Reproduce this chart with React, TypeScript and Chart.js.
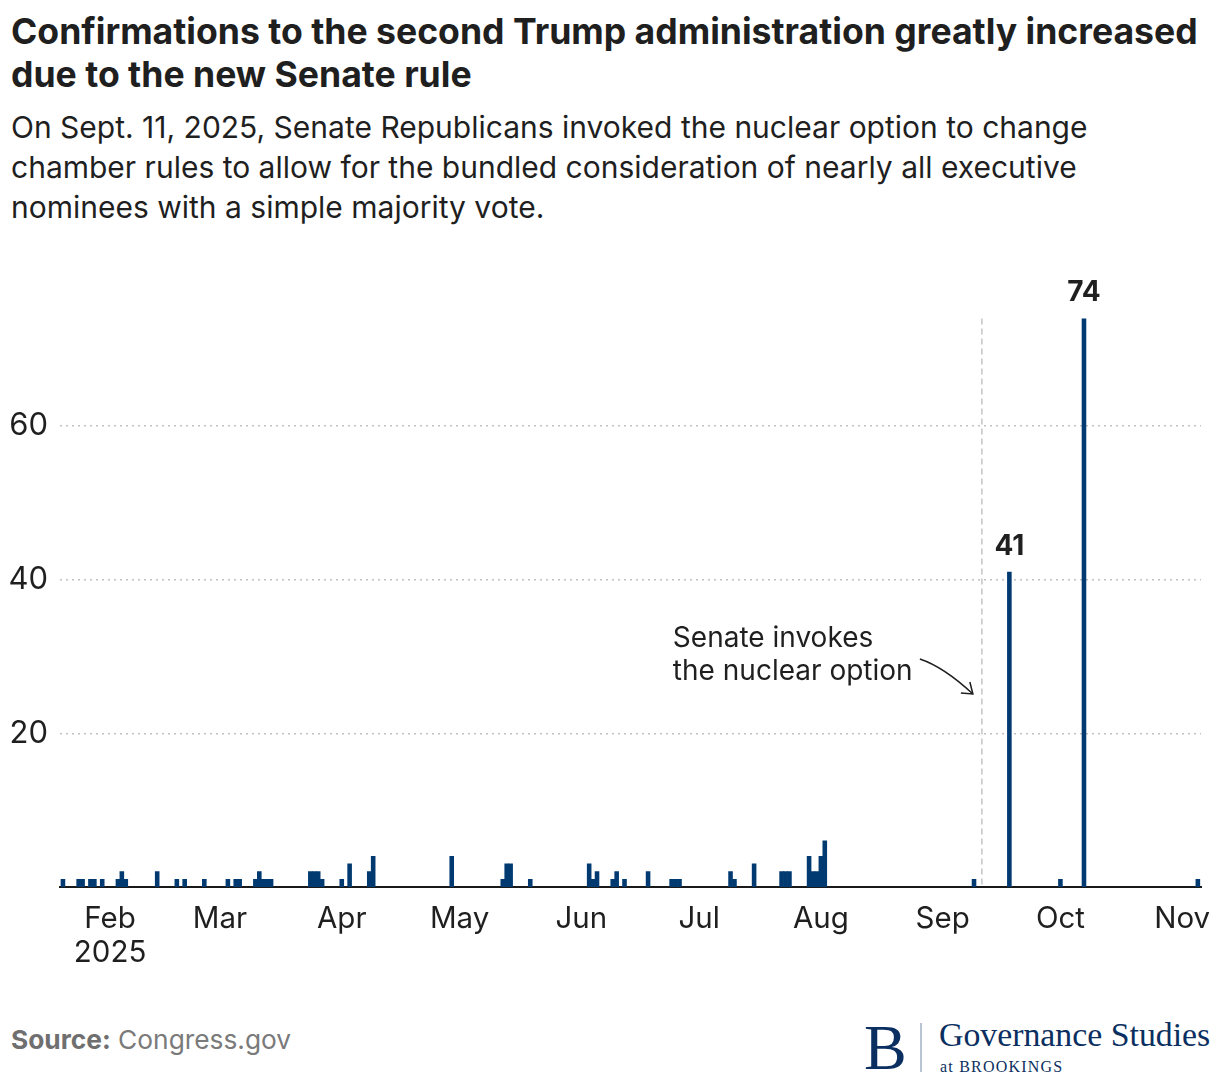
import { useEffect, useRef } from 'react';
import { Chart, registerables } from 'chart.js';

Chart.register(...registerables);

// ---- Data ----
const confirmationDates = [
  '2025-01-20', '2025-01-24', '2025-01-25', '2025-01-27', '2025-01-28', '2025-01-30',
  '2025-02-03', '2025-02-04', '2025-02-05', '2025-02-13', '2025-02-18', '2025-02-20',
  '2025-02-25', '2025-03-03', '2025-03-05', '2025-03-06', '2025-03-10', '2025-03-11',
  '2025-03-12', '2025-03-13', '2025-03-14', '2025-03-24', '2025-03-25', '2025-03-26',
  '2025-03-27', '2025-04-01', '2025-04-03', '2025-04-08', '2025-04-09', '2025-04-29',
  '2025-05-12', '2025-05-13', '2025-05-14', '2025-05-19', '2025-06-03', '2025-06-04',
  '2025-06-05', '2025-06-09', '2025-06-10', '2025-06-12', '2025-06-18', '2025-06-24',
  '2025-06-25', '2025-06-26', '2025-07-09', '2025-07-10', '2025-07-15', '2025-07-22',
  '2025-07-23', '2025-07-24', '2025-07-29', '2025-07-30', '2025-07-31', '2025-08-01',
  '2025-08-02', '2025-09-09', '2025-09-18', '2025-10-01', '2025-10-07', '2025-11-05',
];
const confirmationCounts = [
  1, 1, 1, 1, 1, 1,
  1, 2, 1, 2, 1, 1,
  1, 1, 1, 1, 1, 2,
  1, 1, 1, 2, 2, 2,
  1, 1, 3, 2, 4, 4,
  1, 3, 3, 1, 3, 1,
  2, 1, 2, 1, 2, 1,
  1, 1, 2, 1, 3, 2,
  2, 2, 4, 2, 2, 4,
  6, 1, 41, 1, 74, 1,
];
const monthTickDates = [
  '2025-02-01', '2025-03-01', '2025-04-01', '2025-05-01', '2025-06-01',
  '2025-07-01', '2025-08-01', '2025-09-01', '2025-10-01', '2025-11-01',
];
const monthTickLabels: (string | string[])[] = [
  ['Feb', '2025'], 'Mar', 'Apr', 'May', 'Jun', 'Jul', 'Aug', 'Sep', 'Oct', 'Nov',
];
const yTickValues = [20, 40, 60];
const nuclearOptionDate = '2025-09-11';
const annotationLines = ['Senate invokes', 'the nuclear option'];
const valueLabelThreshold = 10;

const DAY_MS = 86400000;
const dayOf = (s: string) => {
  const [y, m, d] = s.split('-').map(Number);
  return (Date.UTC(y, m - 1, d) - Date.UTC(2025, 0, 1)) / DAY_MS;
};

const FONT = 'Inter, "Noto Sans", sans-serif';
const BAR_COLOR = '#003a70';
const TEXT = '#1f1f1f';

const overlayPlugin = {
  id: 'overlay',
  beforeDatasetsDraw(chart: any) {
    const { ctx, chartArea, scales } = chart;
    const nx = scales.x.getPixelForValue(dayOf(nuclearOptionDate));
    ctx.save();
    ctx.strokeStyle = '#c4c4c4';
    ctx.lineWidth = 1.5;
    ctx.setLineDash([6, 4]);
    ctx.beginPath();
    ctx.moveTo(nx, chartArea.top);
    ctx.lineTo(nx, chartArea.bottom);
    ctx.stroke();
    ctx.restore();
  },
  afterDatasetsDraw(chart: any) {
    const { ctx, chartArea, scales } = chart;
    const nx = scales.x.getPixelForValue(dayOf(nuclearOptionDate));
    const b = chartArea.bottom;
    ctx.save();
    // value labels on the tall bars
    ctx.font = `700 28px ${FONT}`;
    ctx.fillStyle = TEXT;
    ctx.textAlign = 'center';
    ctx.textBaseline = 'alphabetic';
    const meta = chart.getDatasetMeta(0);
    meta.data.forEach((bar: any, i: number) => {
      if (confirmationCounts[i] >= valueLabelThreshold) {
        ctx.fillText(String(confirmationCounts[i]), bar.x, bar.y - 17);
      }
    });
    // annotation
    ctx.font = `400 28px ${FONT}`;
    ctx.textAlign = 'left';
    ctx.fillText(annotationLines[0], nx - 309, b - 240);
    ctx.fillText(annotationLines[1], nx - 309, b - 207);
    // arrow
    ctx.strokeStyle = TEXT;
    ctx.lineWidth = 1.5;
    const x0 = nx - 62, y0 = b - 228;
    const x1 = nx - 9, y1 = b - 193;
    ctx.beginPath();
    ctx.moveTo(x0, y0);
    ctx.quadraticCurveTo(nx - 38, b - 220, x1, y1);
    ctx.stroke();
    ctx.beginPath();
    ctx.moveTo(x1 - 12, y1 - 1);
    ctx.lineTo(x1, y1);
    ctx.lineTo(x1 - 3, y1 - 12);
    ctx.stroke();
    ctx.restore();
  },
};

function ChartCanvas() {
  const ref = useRef<HTMLCanvasElement | null>(null);
  useEffect(() => {
    if (!ref.current) return;
    const points = confirmationDates.map((d, i) => ({ x: dayOf(d), y: confirmationCounts[i] }));
    const chart = new Chart(ref.current, {
      type: 'bar',
      data: {
        datasets: [
          {
            data: points as any,
            backgroundColor: BAR_COLOR,
            borderWidth: 0,
            barPercentage: 1,
            categoryPercentage: 1,
          },
        ],
      },
      options: {
        animation: false,
        responsive: false,
        maintainAspectRatio: false,
        layout: { padding: { top: 68.4, right: 19, left: 0, bottom: 0 } },
        plugins: { legend: { display: false }, tooltip: { enabled: false } },
        scales: {
          x: {
            type: 'linear',
            min: 18.25,
            max: 308.8,
            offset: false,
            z: 1,
            grid: { display: false },
            border: { display: true, color: '#1a1a1a', width: 2 },
            afterFit: (scale: any) => {
              scale.height = 113;
            },
            afterBuildTicks: (scale: any) => {
              scale.ticks = monthTickDates.map((d) => ({ value: dayOf(d) }));
            },
            ticks: {
              autoSkip: false,
              maxRotation: 0,
              minRotation: 0,
              padding: 7,
              color: TEXT,
              font: { family: FONT, size: 29.5, lineHeight: 1.15 },
              callback: (_v: any, i: number) => monthTickLabels[i],
            },
          },
          y: {
            type: 'linear',
            min: 0,
            max: 74,
            grid: { color: '#c2c2c2', lineWidth: 1.5, drawTicks: false },
            border: { display: false, dash: [2, 4] },
            afterFit: (scale: any) => {
              scale.width = 60;
            },
            afterBuildTicks: (scale: any) => {
              scale.ticks = yTickValues.map((v) => ({ value: v }));
            },
            ticks: {
              padding: 12,
              color: TEXT,
              font: { family: FONT, size: 31 },
            },
          },
        },
      } as any,
      plugins: [overlayPlugin],
    });
    return () => chart.destroy();
  }, []);
  return (
    <canvas
      ref={ref}
      width={1220}
      height={750}
      style={{ position: 'absolute', left: 0, top: 250, width: 1220, height: 750 }}
    />
  );
}

export default function App() {
  return (
    <div
      style={{
        position: 'absolute',
        left: 0,
        top: 0,
        width: 1220,
        height: 1082,
        background: '#ffffff',
        fontFamily: FONT,
        overflow: 'hidden',
      }}
    >
      <div
        style={{
          position: 'absolute',
          left: 11,
          top: 10,
          width: 1205,
          fontSize: 35.6,
          lineHeight: '43px',
          fontWeight: 700,
          color: TEXT,
        }}
      >
        Confirmations to the second Trump administration greatly increased due to the new Senate rule
      </div>
      <div
        style={{
          position: 'absolute',
          left: 11,
          top: 107,
          width: 1120,
          fontSize: 30,
          lineHeight: '40px',
          fontWeight: 400,
          color: TEXT,
        }}
      >
        On Sept. 11, 2025, Senate Republicans invoked the nuclear option to change chamber rules to
        allow for the bundled consideration of nearly all executive nominees with a simple majority
        vote.
      </div>
      <ChartCanvas />
      <div
        style={{
          position: 'absolute',
          left: 11,
          top: 1025,
          fontSize: 26.3,
          lineHeight: '30px',
          color: '#7a7a7a',
        }}
      >
        <span style={{ fontWeight: 700, color: '#6f6f6f' }}>Source:</span> Congress.gov
      </div>
      <div
        style={{
          position: 'absolute',
          left: 864,
          top: 1016,
          fontFamily: '"Liberation Serif", "DejaVu Serif", serif',
          fontSize: 64,
          lineHeight: '64px',
          color: '#0b2f60',
        }}
      >
        B
      </div>
      <div
        style={{
          position: 'absolute',
          left: 920,
          top: 1023,
          width: 1.5,
          height: 49,
          background: '#b8c4d4',
        }}
      />
      <div
        style={{
          position: 'absolute',
          left: 939,
          top: 1018,
          fontFamily: '"Liberation Serif", "DejaVu Serif", serif',
          fontSize: 33.8,
          lineHeight: '34px',
          color: '#0b2f60',
          whiteSpace: 'nowrap',
        }}
      >
        Governance Studies
      </div>
      <div
        style={{
          position: 'absolute',
          left: 940,
          top: 1059,
          fontFamily: '"Liberation Serif", "DejaVu Serif", serif',
          fontSize: 16,
          lineHeight: '16px',
          letterSpacing: 1.2,
          color: '#0b2f60',
          whiteSpace: 'nowrap',
        }}
      >
        at BROOKINGS
      </div>
    </div>
  );
}
